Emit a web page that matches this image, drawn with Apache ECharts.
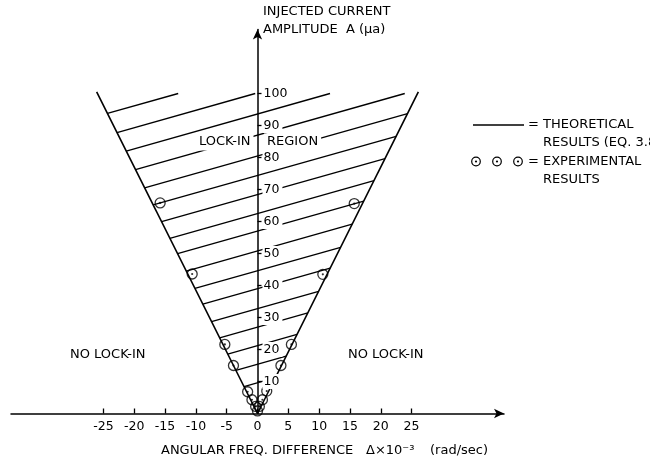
<!DOCTYPE html>
<html><head><meta charset="utf-8">
<script src="https://cdn.jsdelivr.net/npm/echarts@6/dist/echarts.min.js"></script>
<style>html,body{margin:0;padding:0;background:#fff}#c{width:650px;height:463px}</style>
</head><body><div id="c"></div>
<script>
// ---- data ----
const xTickValues = [-25, -20, -15, -10, -5, 0, 5, 10, 15, 20, 25];
const yTickValues = [10, 20, 30, 40, 50, 60, 70, 80, 90, 100];
// theoretical lock-in boundary (eq. 3.8): endpoints
const boundaryA = [0, 100.5];
const boundaryLeft = [0, -26.1];
const boundaryRight = [0, 26.1];
// hatching of the lock-in region: A-intercepts at delta = 0, common slope, top limit
const hatchIntercepts = [107, 100.2, 93.6, 87, 80.5, 74.4, 68.4, 62.5, 57, 50.8, 44.6, 39, 32.8, 27, 21.2, 15.4, 9.6];
const hatchSlope = 0.544;
const hatchTop = 100;
// experimental results
const expDelta = [-15.8, -10.6, -5.3, -3.9, 15.7, 10.6, 5.5, 3.8, -1.6, 1.5, -0.9, 0.8, -0.3, 0.3, 0];
const expA     = [65.8, 43.6, 21.6, 15.0, 65.6, 43.5, 21.6, 15.0, 6.8, 7.0, 4.3, 4.3, 2.2, 2.2, 0.8];

const FONT = '"DejaVu Sans", sans-serif';
const GRID = {left: 11, right: 146, top: 29.5, bottom: 49.5};
const X_MIN = -40, X_MAX = 40;
const chart = echarts.init(document.getElementById('c'), null, {renderer: 'canvas'});
// shift the y axis from the grid's left edge onto delta = 0
const gridW = 650 - GRID.left - GRID.right;
const yAxisShift = -gridW * (0 - X_MIN) / (X_MAX - X_MIN);

const k = boundaryA[1] / boundaryRight[1];
const series = [];
const lineStyleB = {color: '#000', width: 1.6};
series.push({type: 'line', data: boundaryLeft.map((d, i) => [d, boundaryA[i]]), showSymbol: false, lineStyle: lineStyleB, z: 3, animation: false});
series.push({type: 'line', data: boundaryRight.map((d, i) => [d, boundaryA[i]]), showSymbol: false, lineStyle: lineStyleB, z: 3, animation: false});
hatchIntercepts.forEach(c => {
  const xL = -c / (k + hatchSlope);
  const yL = c + hatchSlope * xL;
  if (yL >= hatchTop) return;
  let xR = c / (k - hatchSlope);
  let yR = c + hatchSlope * xR;
  if (yR > hatchTop) { xR = (hatchTop - c) / hatchSlope; yR = hatchTop; }
  series.push({type: 'line', data: [[xL, yL], [xR, yR]], showSymbol: false,
    lineStyle: {color: '#000', width: 1.3}, z: 2, animation: false});
});
const expData = expDelta.map((d, i) => [d, expA[i]]);
series.push({type: 'scatter', data: expData, symbol: 'circle', symbolSize: 10,
  itemStyle: {color: 'rgba(255,255,255,0)', borderColor: '#000', borderWidth: 1.3}, z: 4, animation: false});
series.push({type: 'scatter', data: expData, symbol: 'circle', symbolSize: 2.2,
  itemStyle: {color: '#000'}, z: 4, animation: false});

const txt = (x, y, text, extra) => Object.assign({type: 'text', x: x, y: y, z: 100,
  style: Object.assign({text: text, font: '13px ' + FONT, fill: '#000', textVerticalAlign: 'middle'}, extra || {})});

const graphic = [
  txt(263, 12, 'INJECTED CURRENT'),
  txt(263, 30, 'AMPLITUDE  A (μa)'),
  txt(161, 451, 'ANGULAR FREQ. DIFFERENCE'),
  txt(366, 451, 'Δ×10⁻³'),
  txt(430, 451, '(rad/sec)'),
  txt(70, 355, 'NO LOCK-IN'),
  txt(348, 355, 'NO LOCK-IN'),
  txt(196, 142, 'LOCK-IN', {backgroundColor: '#fff', padding: [2, 3]}),
  txt(264, 142, 'REGION', {backgroundColor: '#fff', padding: [2, 3]}),
  {type: 'line', z: 100, shape: {x1: 473, y1: 125, x2: 524, y2: 125}, style: {stroke: '#000', lineWidth: 1.4}},
  txt(528, 125, '='),
  txt(543, 125, 'THEORETICAL'),
  txt(543, 143, 'RESULTS (EQ. 3.8)'),
  txt(528, 161.5, '='),
  txt(543, 161.5, 'EXPERIMENTAL'),
  txt(543, 180, 'RESULTS')
];
[476, 497, 518].forEach(cx => {
  graphic.push({type: 'circle', z: 100, shape: {cx: cx, cy: 161.5, r: 4.3}, style: {fill: 'none', stroke: '#000', lineWidth: 1.2}});
  graphic.push({type: 'circle', z: 100, shape: {cx: cx, cy: 161.5, r: 1.1}, style: {fill: '#000'}});
});

chart.setOption({
  animation: false,
  backgroundColor: '#fff',
  grid: Object.assign({containLabel: false}, GRID),
  xAxis: {
    type: 'value', min: X_MIN, max: X_MAX, interval: 5, z: 10,
    axisLine: {show: true, symbol: ['none', 'arrow'], symbolSize: [7, 10], lineStyle: {color: '#000', width: 1.5}},
    axisTick: {show: true, inside: true, length: 5, customValues: xTickValues, lineStyle: {color: '#000', width: 1.3}},
    axisLabel: {customValues: xTickValues, margin: 7, color: '#000', fontSize: 12.5, fontFamily: FONT},
    splitLine: {show: false}
  },
  yAxis: {
    type: 'value', min: 0, max: 120, interval: 10, z: 10, position: 'left', offset: yAxisShift,
    axisLine: {show: true, onZero: false, symbol: ['none', 'arrow'], symbolSize: [7, 10], lineStyle: {color: '#000', width: 1.5}},
    axisTick: {show: true, inside: true, length: 4, customValues: yTickValues, lineStyle: {color: '#000', width: 1.3}},
    axisLabel: {inside: true, customValues: yTickValues, margin: 5, color: '#000', fontSize: 12.5, fontFamily: FONT,
      backgroundColor: '#fff', padding: [1, 3, 1, 1]},
    splitLine: {show: false}
  },
  series: series,
  graphic: graphic
});
</script></body></html>
